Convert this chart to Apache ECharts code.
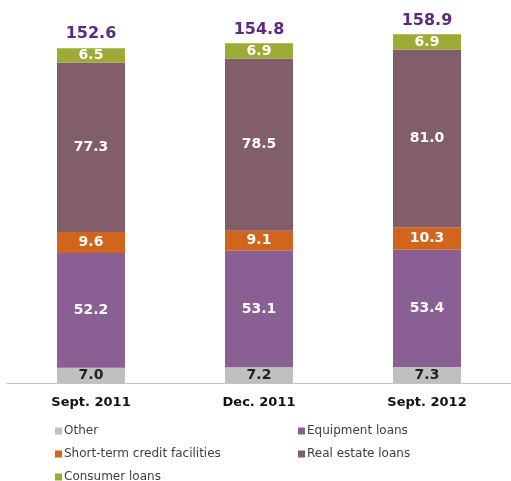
<!DOCTYPE html>
<html><head><meta charset="utf-8">
<script src="https://cdn.jsdelivr.net/npm/echarts@6/dist/echarts.min.js"></script>
<style>html,body{margin:0;padding:0;background:#fff}#c{width:511px;height:481px}</style>
</head><body><div id="c"></div>
<script>
const categories = ['Sept. 2011', 'Dec. 2011', 'Sept. 2012'];
const other = [7.0, 7.2, 7.3];
const equipment = [52.2, 53.1, 53.4];
const shortTerm = [9.6, 9.1, 10.3];
const realEstate = [77.3, 78.5, 81.0];
const consumer = [6.5, 6.9, 6.9];
const totals = [152.6, 154.8, 158.9];

const font = 'Verdana, "DejaVu Sans", sans-serif';
function seg(name, data, color, labelColor) {
  return {
    name, type: 'bar', stack: 's', data, barWidth: 68,
    itemStyle: { color },
    label: { show: true, position: 'inside', color: labelColor, fontFamily: font, fontWeight: 'bold', fontSize: 14,
      formatter: p => p.value.toFixed(1) }
  };
}
function leg(name, left, cy) {
  return { data: [name], left, top: cy - 7, itemWidth: 7, itemHeight: 7, icon: 'rect', padding: 0,
    textStyle: { fontFamily: font, fontSize: 12, color: '#404040', padding: [0, 0, 0, -3] } };
}
const chart = echarts.init(document.getElementById('c'), null, { renderer: 'canvas' });
chart.setOption({
  animation: false,
  grid: { left: 7, width: 507, top: 10, height: 373 },
  xAxis: { type: 'category', data: categories,
    axisLine: { lineStyle: { color: '#C9BFC5', width: 1 } }, axisTick: { show: false },
    axisLabel: { color: '#111', fontFamily: font, fontWeight: 'bold', fontSize: 13, margin: 13 } },
  yAxis: { type: 'value', min: 0, max: 170, show: false, splitLine: { show: false } },
  legend: [
    leg('Other', 55, 432),
    leg('Short-term credit facilities', 55, 455),
    leg('Consumer loans', 55, 478),
    leg('Equipment loans', 298, 432),
    leg('Real estate loans', 298, 455)
  ],
  series: [
    seg('Other', other, '#C0C0C0', '#222'),
    seg('Equipment loans', equipment, '#8A5F93', '#fff'),
    seg('Short-term credit facilities', shortTerm, '#D2651E', '#fff'),
    seg('Real estate loans', realEstate, '#825E6A', '#fff'),
    seg('Consumer loans', consumer, '#9DAA35', '#fff'),
    { name: 'Total', type: 'bar', stack: 's', barWidth: 68, data: totals.map(() => 0),
      itemStyle: { color: 'transparent' },
      label: { show: true, position: 'top', distance: 6, color: '#5E2A80', fontFamily: font, fontWeight: 'bold', fontSize: 16,
        formatter: p => totals[p.dataIndex].toFixed(1) } }
  ]
});
</script></body></html>
